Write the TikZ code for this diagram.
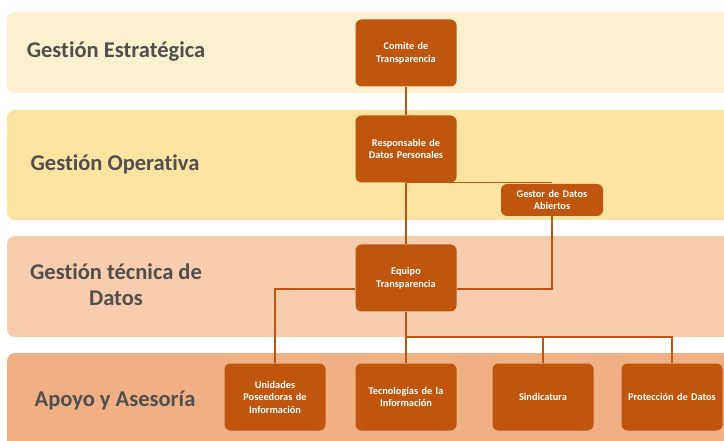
\documentclass[tikz,border=0pt]{standalone}
\usepackage{fontspec}
\setmainfont{Carlito}[Ligatures=NoCommon]
\definecolor{bandA}{HTML}{FCF0CE}
\definecolor{bandB}{HTML}{FDE4A0}
\definecolor{bandC}{HTML}{F7CDAD}
\definecolor{bandD}{HTML}{F0B083}
\definecolor{boxc}{HTML}{C0550E}
\definecolor{labc}{HTML}{4F4F4F}
\begin{document}
\begin{tikzpicture}[x=1pt,y=-1pt,
  unit/.style={fill=boxc, rounded corners=6pt, minimum width=101pt, minimum height=67pt,
    text=white, font=\bfseries\fontsize{10.3}{12.5}\selectfont, align=center, text width=99pt, inner sep=0pt},
  conn/.style={draw=boxc, line width=1.3pt},
  bandlabel/.style={text=labc, font=\bfseries\fontsize{22.5}{26}\selectfont, align=center, inner sep=0pt}]
\useasboundingbox (0,0) rectangle (724,441);
\begin{scope}
\clip (0,0) rectangle (724,441);
\fill[bandA, rounded corners=8pt] (7,12) rectangle (760,93);
\fill[bandB, rounded corners=8pt] (7,110) rectangle (760,220);
\fill[bandC, rounded corners=8pt] (7,236) rectangle (760,337);
\fill[bandD, rounded corners=8pt] (7,353) rectangle (760,470);
\end{scope}
\node[bandlabel] (l1) at (116,52) {Gestión Estratégica};
\node[bandlabel] (l2) at (115,164) {Gestión Operativa};
\node[bandlabel] (l3) at (116,285) {Gestión técnica de\\Datos};
\node[bandlabel] (l4) at (115,401) {Apoyo y Asesoría};
\node[unit] (comite) at (406,53) {Comite de\\Transparencia};
\node[unit] (resp) at (406,149) {Responsable de\\Datos Personales};
\node[unit, minimum width=102pt, minimum height=32pt] (gestor) at (552,200) {Gestor de Datos\\Abiertos};
\node[unit] (equipo) at (406,278) {Equipo\\Transparencia};
\node[unit] (unid) at (275,397) {Unidades\\Poseedoras de\\Información};
\node[unit] (tecno) at (406,397) {Tecnologías de la\\Información};
\node[unit] (sind) at (543,397) {Sindicatura};
\node[unit] (prot) at (672,397) {Protección de Datos};
\coordinate (bus) at (406,337);
\draw[conn] (comite) -- (resp);
\draw[conn] (resp) -- (equipo);
\draw[conn] (resp.south) -- (gestor.north |- resp.south);
\draw[conn] (gestor.south) |- ([yshift=-11pt]equipo.east);
\draw[conn] ([yshift=-11pt]equipo.west) -| (unid.north);
\draw[conn] (equipo) -- (tecno);
\draw[conn] (bus) -| (prot.north);
\draw[conn] (bus -| sind.north) -- (sind.north);
\end{tikzpicture}
\end{document}
